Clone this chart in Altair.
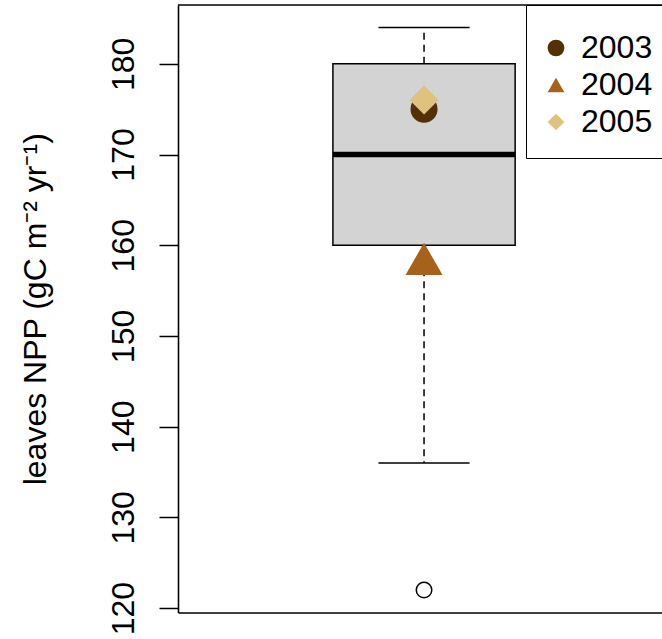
import altair as alt
import pandas as pd

# ---- data ----
years = ["2003", "2004", "2005"]
year_npp = [175.0, 158.5, 176.0]
year_colors = ["#543005", "#a6611a", "#dfc27d"]
year_shapes = ["circle", "triangle-up", "diamond"]

box_center = [1.0]
box_q1 = [160.0]
box_median = [170.0]
box_q3 = [180.0]
whisker_lo = [136.0]
whisker_hi = [184.0]
outliers = [122.0]

y_ticks = [120, 130, 140, 150, 160, 170, 180]

# ---- layout constants ----
FONT = "Liberation Sans"
W, H = 484, 607.5
BOX_HALF = 0.2
CAP_HALF = 0.1
point_sizes = [730, 1370, 841]

x_scale = alt.Scale(domain=[0.46, 1.5223], nice=False, zero=False)
y_scale = alt.Scale(domain=[119.52, 186.48], nice=False, zero=False)

x_axis = alt.Axis(labels=False, ticks=False, title=None, grid=False,
                  domain=True, domainColor="black", domainWidth=1.6)
y_axis = alt.Axis(values=y_ticks, grid=False, domainColor="black", domainWidth=1.6,
                  tickColor="black", tickWidth=1.5, tickSize=19,
                  labelAngle=270, labelAlign="center", labelBaseline="alphabetic",
                  labelPadding=26, labelFont=FONT, labelFontSize=32, labelColor="black",
                  title="leaves NPP (gC m\u207b\u00b2 yr\u207b\u00b9)",
                  titleFont=FONT, titleFontSize=32, titleFontWeight="normal",
                  titleColor="black", titleAngle=270, titleAlign="center",
                  titleBaseline="alphabetic", titleX=-133, titleY=H / 2)

box_df = pd.DataFrame({
    "x": [c - BOX_HALF for c in box_center],
    "x2": [c + BOX_HALF for c in box_center],
    "npp": box_q1, "npp2": box_q3, "med": box_median,
})
whisk_df = pd.DataFrame({
    "x": box_center * 2,
    "npp": box_q3 + box_q1,
    "npp2": whisker_hi + whisker_lo,
})
cap_df = pd.DataFrame({
    "x": [box_center[0] - CAP_HALF] * 2,
    "x2": [box_center[0] + CAP_HALF] * 2,
    "npp": whisker_hi + whisker_lo,
})
out_df = pd.DataFrame({"x": box_center * len(outliers), "npp": outliers})
pts_df = pd.DataFrame({"x": box_center * len(years), "npp": year_npp,
                       "year": years, "size": point_sizes})

X = alt.X("x:Q", scale=x_scale, axis=x_axis)
Y = alt.Y("npp:Q", scale=y_scale, axis=y_axis)

whiskers = alt.Chart(whisk_df).mark_rule(color="black", strokeWidth=1.5,
                                         strokeDash=[7, 5]).encode(
    x=X, y=Y, y2="npp2:Q")
caps = alt.Chart(cap_df).mark_rule(color="black", strokeWidth=1.5).encode(
    x=X, x2="x2:Q", y=Y)
box = alt.Chart(box_df).mark_rect(fill="#d3d3d3", stroke="black", strokeWidth=1.5).encode(
    x=X, x2="x2:Q", y=Y, y2="npp2:Q")
median = alt.Chart(box_df).mark_rule(color="black", strokeWidth=5.5).encode(
    x=X, x2="x2:Q", y=alt.Y("med:Q", scale=y_scale, axis=y_axis))
outl = alt.Chart(out_df).mark_point(shape="circle", filled=False, stroke="black",
                                    strokeWidth=1.5, size=240, opacity=1).encode(
    x=X, y=Y)
pts = alt.Chart(pts_df).mark_point(filled=True, opacity=1, strokeWidth=0).encode(
    x=X, y=Y,
    color=alt.Color("year:N", scale=alt.Scale(domain=years, range=year_colors),
                    legend=alt.Legend(title=" ", titleFontSize=2, titlePadding=5,
                                      orient="none", legendX=348, legendY=0,
                                      labelFont=FONT, labelFontSize=32, labelColor="black",
                                      symbolSize=280, symbolOpacity=1, symbolStrokeWidth=0,
                                      symbolOffset=-6,
                                      padding=20, rowPadding=5, labelOffset=9,
                                      strokeColor="black", fillColor="white")),
    shape=alt.Shape("year:N", scale=alt.Scale(domain=years, range=year_shapes)),
    size=alt.Size("size:Q", scale=None, legend=None),
)
top_line = alt.Chart(pd.DataFrame({"a": [0]})).mark_rule(color="black", strokeWidth=1.6).encode(
    x=alt.value(0), x2=alt.value(W), y=alt.value(0))

chart = alt.layer(box, whiskers, caps, median, outl, pts, top_line).properties(
    width=W, height=H,
    autosize=alt.AutoSizeParams(type="none"),
    padding={"left": 178, "top": 5, "right": 0, "bottom": 26.5},
    background="white",
).configure_view(stroke=None)

chart.save("out.html", embed_options={"renderer": "svg", "actions": False})
